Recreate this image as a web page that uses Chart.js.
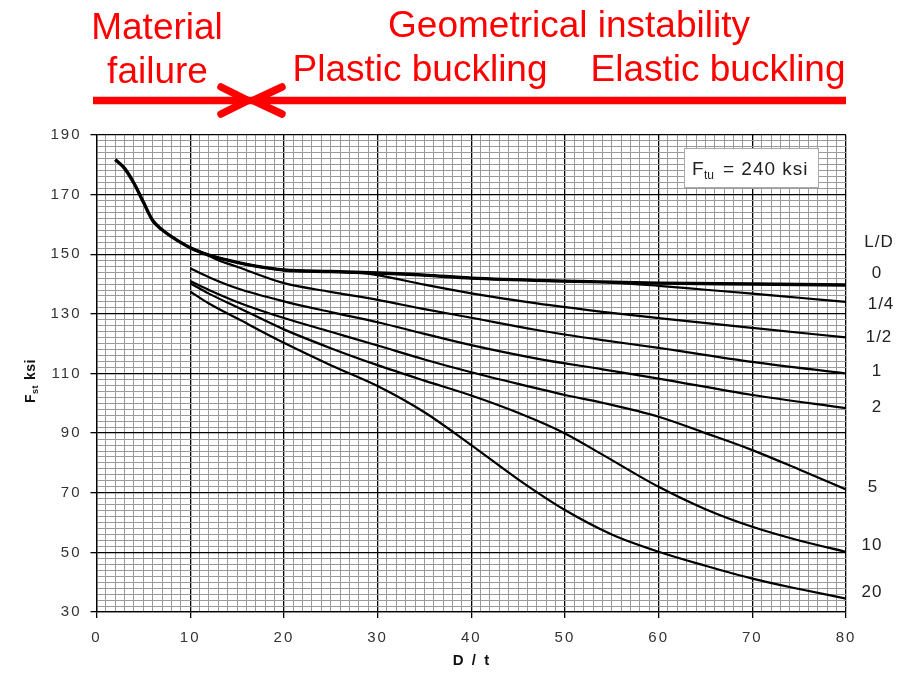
<!DOCTYPE html>
<html><head><meta charset="utf-8">
<script src="https://cdn.jsdelivr.net/npm/chart.js@4.4.1/dist/chart.umd.min.js"></script>
<style>html,body{margin:0;padding:0;background:#fff;}canvas{display:block;}</style>
</head><body>
<canvas id="c" width="906" height="673"></canvas>
<script>
// ---- data ----
const ratioLabels = ['0', '1/4', '1/2', '1', '2', '5', '10', '20'];
const xTickLabels = ['0', '10', '20', '30', '40', '50', '60', '70', '80'];
const yTickLabels = ['30', '50', '70', '90', '110', '130', '150', '170', '190'];

// L/D = 0 (including material failure branch)
const xLD0 = [2, 3, 4, 5, 6, 7, 8, 10, 12, 14, 16, 18, 20, 25, 30, 35, 40, 50, 60, 70, 80];
const yLD0 = [181.8, 178.8, 173.8, 167.5, 161.3, 158.2, 155.9, 152.2, 149.7, 148, 146.6, 145.5, 144.7, 144.2, 143.7, 143, 142, 141, 140.3, 140, 139.7];
// L/D = 1/4
const xLD14 = [10, 12, 14, 16, 18, 20, 25, 30, 35, 40, 50, 55, 60, 65, 70, 75, 80];
const yLD14 = [152.2, 149.7, 148, 146.6, 145.5, 144.7, 144.2, 143.7, 143, 142, 141, 140.5, 139.4, 138.1, 136.8, 135.4, 134];
// L/D = 1/2
const xLD12 = [10, 12, 14, 16, 18, 20, 25, 28, 30, 35, 40, 47, 54, 60, 70, 80];
const yLD12 = [152.2, 149.7, 148, 146.6, 145.5, 144.7, 144.2, 143.8, 143, 139.8, 136.9, 133.5, 130.7, 128.6, 125.3, 122.1];
// L/D = 1
const xLD1 = [10, 11, 13, 15, 20, 25, 30, 35, 40, 47, 54, 60, 70, 80];
const yLD1 = [152.2, 150.9, 148, 145.8, 140.3, 137.4, 134.7, 131.6, 128.7, 124.6, 121.2, 118.6, 113.9, 110];
// L/D = 2
const xLD2 = [10, 12, 15, 20, 25, 30, 35, 40, 47, 54, 60, 70, 80];
const yLD2 = [145.3, 142.3, 138.6, 134.2, 130.6, 127.2, 123.3, 119.5, 115, 111.4, 108.3, 102.8, 98.4];
// L/D = 5
const xLD5 = [10, 12, 15, 20, 25, 30, 35, 40, 45, 50, 54, 60, 65, 70, 75, 80];
const yLD5 = [141, 138, 134, 128.6, 124, 119.4, 114.7, 110.4, 106.5, 102.8, 100.2, 95.5, 90, 84.3, 77.8, 71.1];
// L/D = 10
const xLD10 = [10, 12, 15, 20, 25, 30, 35, 40, 45, 50, 54, 60, 65, 70, 75, 80];
const yLD10 = [140.3, 136.8, 132.3, 124.8, 118.5, 112.8, 107.6, 102.6, 96.8, 89.9, 82.8, 72, 64.5, 58.6, 54, 50.2];
// L/D = 20
const xLD20 = [10, 12, 15, 20, 25, 30, 35, 40, 45, 50, 55, 60, 65, 70, 75, 80];
const yLD20 = [137.5, 133.5, 128.5, 120.3, 112.8, 105.8, 97, 86, 74.5, 64.2, 56, 50.2, 45.5, 41.2, 37.7, 34.5];

const seriesX = [xLD0, xLD14, xLD12, xLD1, xLD2, xLD5, xLD10, xLD20];
const seriesY = [yLD0, yLD14, yLD12, yLD1, yLD2, yLD5, yLD10, yLD20];

const pts = (xs, ys) => xs.map((x, i) => ({x: x, y: ys[i]}));

const datasets = seriesX.map((xs, i) => ({
  label: 'L/D ' + ratioLabels[i],
  data: pts(xs, seriesY[i]),
  borderColor: '#000',
  borderWidth: i === 0 ? 3.4 : 2.2,
  pointRadius: 0,
  fill: false,
  cubicInterpolationMode: 'monotone',
  order: i === 0 ? 0 : 1
}));

const FONT = '"Liberation Sans", Arial, sans-serif';

const decor = {
  id: 'decor',
  beforeDraw(chart) { chart.ctx.letterSpacing = '2px'; },
  afterDraw(chart) {
    const c = chart.ctx;
    c.save();
    c.letterSpacing = '0px';
    // red header
    c.fillStyle = '#ff0000';
    c.strokeStyle = '#ff0000';
    c.font = '37px ' + FONT;
    c.textAlign = 'center';
    c.textBaseline = 'alphabetic';
    c.fillText('Material', 157, 39);
    c.fillText('failure', 157.5, 83);
    c.fillText('Geometrical instability', 569, 37);
    c.fillText('Plastic buckling', 420, 81);
    c.fillText('Elastic buckling', 718, 81);
    c.lineWidth = 7.5;
    c.lineCap = 'butt';
    c.beginPath(); c.moveTo(93, 100.5); c.lineTo(846, 100.5); c.stroke();
    c.lineWidth = 7.5;
    c.lineCap = 'round';
    c.lineJoin = 'miter';
    c.beginPath(); c.moveTo(221, 87); c.lineTo(248, 100.5); c.lineTo(221, 114); c.stroke();
    c.beginPath(); c.moveTo(282, 87); c.lineTo(253, 100.5); c.lineTo(282, 114); c.stroke();

    // Ftu box
    c.fillStyle = '#fff';
    c.fillRect(684, 148, 135, 40);
    c.strokeStyle = '#aaa';
    c.lineWidth = 1;
    c.strokeRect(684.5, 148.5, 134, 39);
    c.fillStyle = '#222';
    c.textAlign = 'left';
    c.font = '19px ' + FONT;
    c.fillText('F', 692, 175);
    c.font = '12px ' + FONT;
    c.fillText('tu', 704, 179);
    c.letterSpacing = '1px';
    c.font = '19px ' + FONT;
    c.fillText('= 240 ksi', 723, 175);

    // right-side L/D labels
    c.textAlign = 'center';
    c.textBaseline = 'middle';
    c.font = '17px ' + FONT;
    c.fillStyle = '#222';
    c.fillText('L/D', 879, 242);
    const labPos = [[877, 273], [881, 304], [879, 337], [877, 371], [877, 407], [873, 487], [872, 545], [872, 592]];
    ratioLabels.forEach((t, i) => c.fillText(t, labPos[i][0], labPos[i][1]));

    // x axis title
    c.font = 'bold 15px ' + FONT;
    c.letterSpacing = '2px';
    c.fillStyle = '#111';
    c.fillText('D / t', 472, 661);

    // y axis title (rotated) F_st ksi
    c.translate(35, 403);
    c.rotate(-Math.PI / 2);
    c.textAlign = 'left';
    c.textBaseline = 'alphabetic';
    c.letterSpacing = '0.5px';
    c.font = 'bold 14px ' + FONT;
    c.fillText('F', 0, 0);
    c.font = 'bold 9px ' + FONT;
    c.fillText('st', 9, 3);
    c.font = 'bold 14px ' + FONT;
    c.fillText('ksi', 23, 0);
    c.restore();
  }
};

const gridColor = (major) => major ? '#000' : '#9a9a9a';

new Chart(document.getElementById('c'), {
  type: 'line',
  data: { datasets: datasets },
  plugins: [decor],
  options: {
    responsive: false,
    animation: false,
    events: [],
    layout: { padding: { top: 135, right: 60, left: 0, bottom: 0 } },
    plugins: { legend: { display: false }, tooltip: { enabled: false } },
    scales: {
      x: {
        type: 'linear',
        min: 0, max: 80,
        afterFit: s => { s.height = 61; },
        ticks: {
          stepSize: 1,
          autoSkip: false,
          maxRotation: 0,
          padding: 11,
          color: '#333',
          font: { family: FONT, size: 15 },
          callback: v => (v % 10 === 0 ? xTickLabels[v / 10] : '')
        },
        grid: {
          color: ctx => gridColor(ctx.tick && ctx.tick.value % 10 === 0),
          lineWidth: ctx => (ctx.tick && ctx.tick.value % 10 === 0 ? 1.3 : 1),
          tickColor: ctx => (ctx.tick && ctx.tick.value % 10 === 0 ? '#000' : 'rgba(0,0,0,0)'),
          tickLength: 6,
          drawTicks: true
        },
        border: { color: '#000', width: 1.3 }
      },
      y: {
        min: 30, max: 190,
        afterFit: s => { s.width = 96.5; },
        ticks: {
          stepSize: 2,
          autoSkip: false,
          padding: 9,
          color: '#333',
          font: { family: FONT, size: 15 },
          callback: v => ((v - 30) % 20 === 0 ? yTickLabels[(v - 30) / 20] : '')
        },
        grid: {
          color: ctx => gridColor(ctx.tick && (ctx.tick.value - 30) % 20 === 0),
          lineWidth: ctx => (ctx.tick && (ctx.tick.value - 30) % 20 === 0 ? 1.3 : 1),
          tickColor: ctx => (ctx.tick && (ctx.tick.value - 30) % 20 === 0 ? '#000' : 'rgba(0,0,0,0)'),
          tickLength: 6,
          drawTicks: true
        },
        border: { color: '#000', width: 1.3 }
      }
    }
  }
});
</script>
</body></html>
